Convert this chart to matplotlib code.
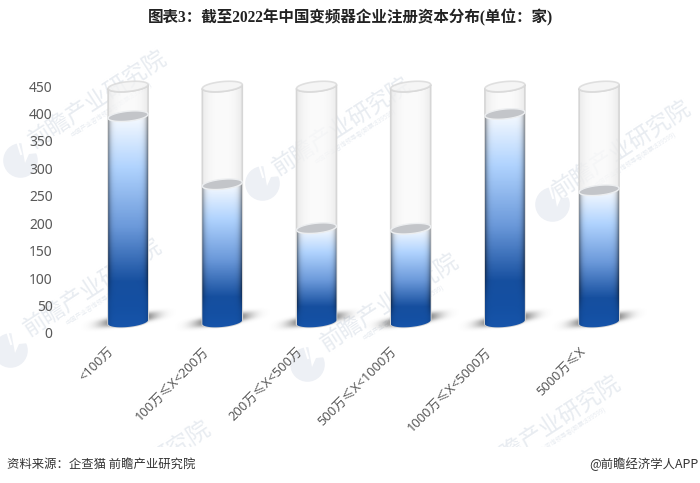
import numpy as np
import matplotlib
matplotlib.use("Agg")
import matplotlib.pyplot as plt
from matplotlib.colors import LinearSegmentedColormap
from matplotlib.patches import Polygon, Rectangle

categories = ["<100万", "100万≤X<200万", "200万≤X<500万", "500万≤X<1000万", "1000万≤X<5000万", "5000万≤X"]
values = [395, 271, 191, 190, 399, 260]
y_ticks = [0, 50, 100, 150, 200, 250, 300, 350, 400, 450]

BASE = 20      # the cylinders stand a little above the axis zero
GLASS_TOP = 449
HALF_W = 0.212
ELL_H = 9.0    # ellipse half height in data units
ELL_TILT = 3.5 # right side sits higher than the left

cjk = ["Noto Sans", "Noto Sans CJK SC", "DejaVu Sans"]
plt.rcParams["font.family"] = cjk

fig = plt.figure(figsize=(7, 4.83), dpi=100)
W, H = 700, 483
ax = fig.add_axes([81 / W, 1 - 333 / H, 565.2 / W, 247 / H])
ax.patch.set_alpha(0)

# watermark behind everything
bg = fig.add_axes([0, 0, 1, 1], zorder=-1)
bg.set_xlim(0, W)
bg.set_ylim(H, 0)
bg.axis("off")
wm_clip = Rectangle((0, 0), W, 447, transform=bg.transData)
marks = [(98, 100), (342, 127), (622, 150), (93, 288), (390, 303), (552, 425)]
logos = [(20, 160), (262, 183), (552, 204), (10, 350), (307, 364)]
for mx, my in marks:
    for s, dx, dy, size in [("前瞻产业研究院", 0, 0, 16.5), ("中国产业咨询领导者(股票:839599)", 14, 10, 4.5)]:
        t = bg.text(mx + dx, my + dy, s, fontsize=size, color="#e8ecf1", rotation=33,
                    ha="center", va="center", rotation_mode="anchor")
        t.set_clip_on(True)
        t.set_clip_path(wm_clip)
t = bg.text(180, 446, "研究院", fontsize=16.5, color="#e8ecf1", rotation=33,
            ha="center", va="center", rotation_mode="anchor")
t.set_clip_on(True)
t.set_clip_path(wm_clip)
for lx, ly in logos:
    bg.scatter([lx], [ly], s=620, color="#edf0f5", linewidths=0)
    bg.add_patch(Polygon([(lx + 1, ly - 19), (lx + 19, ly - 19), (lx + 19, ly - 7), (lx + 9, ly - 6), (lx + 5, ly + 3)],
                         closed=True, fc="white", ec="none"))
    bg.plot([lx - 3, lx + 1], [ly - 19, ly - 6], color="white", lw=1.5)


def ellipse(cx, cy):
    t = np.linspace(0, 2 * np.pi, 80)
    return np.column_stack([cx + HALF_W * np.cos(t), cy + ELL_H * np.sin(t) + ELL_TILT * np.cos(t)])


def body(cx, y0, y1):
    # side outline: lower half of the base ellipse then lower half of the top one going back
    t = np.linspace(np.pi, 2 * np.pi, 40)
    low = np.column_stack([cx + HALF_W * np.cos(t), y0 + ELL_H * np.sin(t) + ELL_TILT * np.cos(t)])
    t2 = t[::-1]
    high = np.column_stack([cx + HALF_W * np.cos(t2), y1 + ELL_H * np.sin(t2) + ELL_TILT * np.cos(t2)])
    return np.vstack([low, high])


liquid = LinearSegmentedColormap.from_list("liquid", [
    (0.0, "#f6faff"), (0.24, "#b0d3fe"), (0.52, "#6b99da"), (0.78, "#164f9f"), (0.9, "#1450a3"), (1.0, "#1755ab")])

for i, v in enumerate(values):
    # ground shadow, a tilted soft smear behind the base
    sx = np.linspace(-0.5, 0.5, 100)
    sy = np.linspace(0, 50, 60)
    xx, yy = np.meshgrid(sx, sy)
    a = np.exp(-((np.abs(xx) / 0.29) ** 3) - ((np.abs(yy - (24 + 26 * xx)) / 8) ** 2.5))
    shadow = np.zeros(a.shape + (4,))
    shadow[..., :3] = 0.33
    shadow[..., 3] = a * 0.95
    ax.imshow(shadow, extent=[i - 0.5, i + 0.5, 0, 50], origin="lower", aspect="auto", zorder=1)

    # glass, see-through with greyer sides
    gl = 0.98 - 0.08 * np.abs(np.linspace(-1, 1, 60)) ** 3
    glass = np.zeros((2, 60, 4))
    glass[..., :3] = gl[None, :, None]
    glass[..., 3] = 0.8
    gi = ax.imshow(glass, extent=[i - HALF_W, i + HALF_W, BASE - ELL_H, GLASS_TOP + ELL_H], aspect="auto", zorder=2)
    gi.set_clip_path(Polygon(body(i, BASE, GLASS_TOP), closed=True, transform=ax.transData))
    ax.add_patch(Polygon(body(i, BASE, GLASS_TOP), closed=True, fc="none", ec="#d6d6d6", lw=1.2, zorder=2, clip_on=False))
    ax.add_patch(Polygon(ellipse(i, GLASS_TOP), closed=True, fc="#f3f3f3", ec="#d9d9d9", lw=1.2, alpha=0.8, zorder=2, clip_on=False))

    # liquid, vertical colour ramp darkened toward the sides
    pos = np.linspace(0, 1, 200)
    ramp = liquid(pos)[:, None, :3]
    strength = np.interp(pos, [0, 0.72, 0.88, 1], [0.42, 0.5, 0.14, 0.14])[:, None]
    edge = 1 - strength * np.abs(np.linspace(-1, 1, 60))[None, :] ** 8
    img = ramp * edge[:, :, None]
    im = ax.imshow(img, extent=[i - HALF_W, i + HALF_W, BASE - ELL_H - 4, v], aspect="auto", zorder=3)
    im.set_clip_path(Polygon(body(i, BASE, v), closed=True, transform=ax.transData))
    ax.add_patch(Polygon(ellipse(i, v), closed=True, fc="#c3c5c9", ec="#eceef0", lw=1, zorder=4))

    ax.annotate(categories[i], xy=(i, 0), xycoords=("data", "axes fraction"), xytext=(-11.5, -12),
                textcoords="offset points", rotation=45, ha="right", va="center",
                rotation_mode="anchor", fontsize=9.3, color="#595959")

ax.set_xlim(-0.5, 5.5)
ax.set_ylim(0, 450)

for s in ax.spines.values():
    s.set_visible(False)
ax.set_yticks(y_ticks)
ax.set_xticks([])
ax.tick_params(axis="y", length=0, labelsize=10, labelcolor="#595959", pad=20.5)

fig.text(350 / W, 1 - 18 / H, "图表3：截至2022年中国变频器企业注册资本分布(单位：家)", fontsize=11.2,
         fontweight="bold", ha="center", va="center", color="#222222",
         family=["Liberation Serif", "Noto Sans CJK SC"])
fig.text(7 / W, 1 - 464 / H, "资料来源：企查猫 前瞻产业研究院", fontsize=8.9, color="#333333",
         ha="left", va="center", family=["Noto Sans CJK SC", "DejaVu Sans"])
fig.text(699 / W, 1 - 464 / H, "@前瞻经济学人APP", fontsize=8.9, color="#333333",
         ha="right", va="center", family=["Noto Sans CJK SC", "DejaVu Sans"])

fig.savefig("out.png", dpi=100)
